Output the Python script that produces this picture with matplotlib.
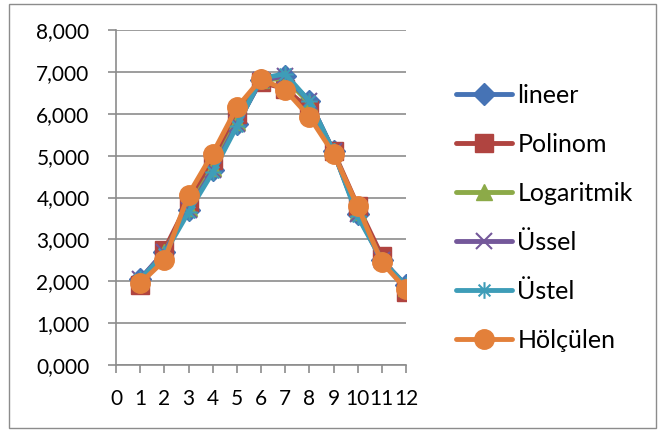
import numpy as np
import matplotlib.pyplot as plt
from matplotlib.patches import Rectangle
from matplotlib.path import Path

plt.rcParams['font.family'] = ['Lato', 'DejaVu Sans']

# data
months = [1, 2, 3, 4, 5, 6, 7, 8, 9, 10, 11, 12]
lineer = [2.05, 2.70, 3.70, 4.65, 5.75, 6.80, 6.90, 6.30, 5.10, 3.60, 2.50, 1.90]
polinom = [1.90, 2.75, 3.90, 4.90, 6.00, 6.75, 6.60, 6.10, 5.10, 3.80, 2.60, 1.75]
logaritmik = [2.00, 2.70, 3.75, 4.70, 5.80, 6.80, 6.85, 6.25, 5.10, 3.65, 2.50, 1.85]
ussel = [2.05, 2.70, 3.70, 4.65, 5.75, 6.80, 6.90, 6.30, 5.10, 3.60, 2.50, 1.90]
ustel = [2.05, 2.65, 3.65, 4.60, 5.70, 6.85, 6.95, 6.30, 5.10, 3.55, 2.50, 1.90]
olculen = [1.95, 2.50, 4.07, 5.05, 6.15, 6.83, 6.57, 5.93, 5.05, 3.79, 2.45, 1.81]

names = ['lineer', 'Polinom', 'Logaritmik', 'Üssel', 'Üstel', 'Hölçülen']
series = [lineer, polinom, logaritmik, ussel, ustel, olculen]
colors = ['#4673B5', '#B04440', '#8CAA48', '#74589A', '#3E9DB8', '#E3803A']

# asterisk marker: a + and an x on top of each other
d = np.sqrt(0.5)
star = Path([(-1, 0), (1, 0), (0, -1), (0, 1), (-d, -d), (d, d), (-d, d), (d, -d)],
            [Path.MOVETO, Path.LINETO] * 4)
markers = ['D', 's', '^', 'x', star, 'o']
msizes = [11, 13, 12, 11, 12, 14]

fig = plt.figure(figsize=(6.61, 4.32), dpi=100)
ax = fig.add_axes([116 / 661, 1 - 365 / 432, (406 - 116) / 661, (365 - 30) / 432])

for y, name, c, m, ms in zip(series, names, colors, markers, msizes):
    ax.plot(months, y, color=c, lw=3.5, marker=m, ms=ms, mec=c, mfc=c,
            mew=1.5 if m in ('x',) or m is star else 1, label=name,
            solid_capstyle='round', solid_joinstyle='round')

ax.set_xlim(0, 12)
ax.set_ylim(0, 8)
ax.set_xticks(range(0, 13))
ax.set_yticks(range(0, 9))
ax.set_yticklabels(['%d,000' % v for v in range(0, 9)])
ax.yaxis.grid(True, color='#8C8C8C', lw=1.2)
ax.set_axisbelow(True)
for s in ['top', 'right']:
    ax.spines[s].set_visible(False)
for s in ['left', 'bottom']:
    ax.spines[s].set_color('#8C8C8C')
    ax.spines[s].set_linewidth(1.2)
ax.tick_params(axis='both', colors='#8C8C8C', length=6, width=1.2, labelsize=15,
               labelcolor='black')
ax.tick_params(axis='y', pad=13)
ax.tick_params(axis='x', pad=11)

ax.legend(loc='upper left', bbox_to_anchor=(456 / 661, 1 - 84 / 432),
          bbox_transform=fig.transFigure, frameon=False, fontsize=18,
          labelspacing=1.04, handlelength=2.25, handletextpad=0.2,
          borderpad=0, borderaxespad=0)

fig.patches.append(Rectangle((9 / 661, 4 / 432), 647 / 661, 424 / 432,
                             transform=fig.transFigure, fill=False,
                             edgecolor='#8C8C8C', lw=1))

fig.savefig('out.png', dpi=100)
